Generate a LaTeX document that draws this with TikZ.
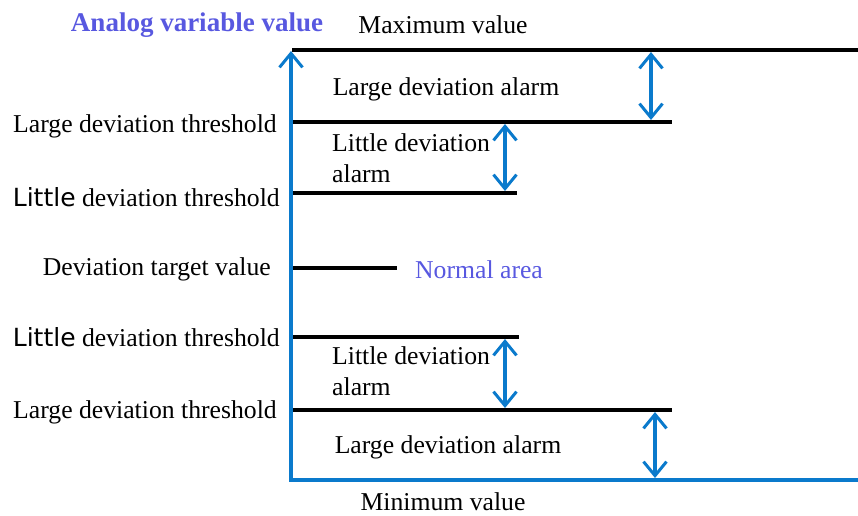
\documentclass[tikz,border=0pt]{standalone}
\usepackage{fontspec}
\setmainfont{Liberation Serif}
\newfontfamily\lsans{DejaVu Sans}
\newfontfamily\lserif{Liberation Serif}
\usetikzlibrary{arrows.meta}
\definecolor{axisblue}{RGB}{10,122,204}
\definecolor{labblue}{RGB}{88,88,224}
\tikzset{
  txt/.style={inner sep=0pt, font=\fontsize{25.7}{31}\selectfont},
  lev/.style={draw=black, line width=3.2pt},
  axisline/.style={draw=axisblue, line width=3.2pt, line join=miter},
  dbl/.style={draw=axisblue, line width=3.2pt, {Straight Barb[length=14pt,width=23pt,line width=3pt]}-{Straight Barb[length=14pt,width=23pt,line width=3pt]}},
}
\begin{document}
\begin{tikzpicture}[x=1pt,y=-1pt]
\useasboundingbox (0,0) rectangle (858,515);
% coordinates
\coordinate (axtop) at (291,51);
\coordinate (axbot) at (291,480);
\coordinate (axr) at (858,480);
\coordinate (maxl) at (292,50);
\coordinate (maxr) at (858,50);
\coordinate (l1l) at (291,122);
\coordinate (l1r) at (672,122);
\coordinate (s1l) at (291,193);
\coordinate (s1r) at (517,193);
\coordinate (tl) at (293,268);
\coordinate (tr) at (397,268);
\coordinate (s2l) at (291,337);
\coordinate (s2r) at (519,337);
\coordinate (l2l) at (291,410);
\coordinate (l2r) at (672,410);
\coordinate (a1t) at (651,52);
\coordinate (a1b) at (651,120);
\coordinate (a2t) at (505,124);
\coordinate (a2b) at (505,191);
\coordinate (a3t) at (505,339);
\coordinate (a3b) at (505,408);
\coordinate (a4t) at (655,412);
\coordinate (a4b) at (655,478);
% level lines
\draw[lev] (maxl) -- (maxr);
\draw[lev] (l1l) -- (l1r);
\draw[lev] (s1l) -- (s1r);
\draw[lev] (tl) -- (tr);
\draw[lev] (s2l) -- (s2r);
\draw[lev] (l2l) -- (l2r);
% axis
\draw[axisline, -{Straight Barb[length=14pt,width=23pt,line width=3pt]}] (axr) -- (axbot) -- (axtop);
% double arrows
\draw[dbl] (a1t) -- (a1b);
\draw[dbl] (a2t) -- (a2b);
\draw[dbl] (a3t) -- (a3b);
\draw[dbl] (a4t) -- (a4b);
% texts
\node[txt, text=labblue, font=\lserif\bfseries\fontsize{27}{31}\selectfont] (title) at (197,25) {Analog variable value};
\node[txt] (maxv) at (443,25) {Maximum value};
\node[txt] (la1) at (446,89) {Large deviation alarm};
\node[txt, align=left, anchor=north west] (sa1) at (332,133) {Little deviation\\alarm};
\node[txt, text=labblue] (norm) at (479,270) {Normal area};
\node[txt, align=left, anchor=north west] (sa2) at (332,346) {Little deviation\\alarm};
\node[txt] (la2) at (448,447) {Large deviation alarm};
\node[txt] (minv) at (443,502) {Minimum value};
\node[txt, anchor=east] (t1) at (277,126) {Large deviation threshold};
\node[txt, anchor=east] (t2) at (280,197) {{\lsans\fontsize{25}{30}\selectfont Little} deviation threshold};
\node[txt, anchor=east] (t3) at (271,269) {Deviation target value};
\node[txt, anchor=east] (t4) at (280,337) {{\lsans\fontsize{25}{30}\selectfont Little} deviation threshold};
\node[txt, anchor=east] (t5) at (277,412) {Large deviation threshold};
\end{tikzpicture}
\end{document}
